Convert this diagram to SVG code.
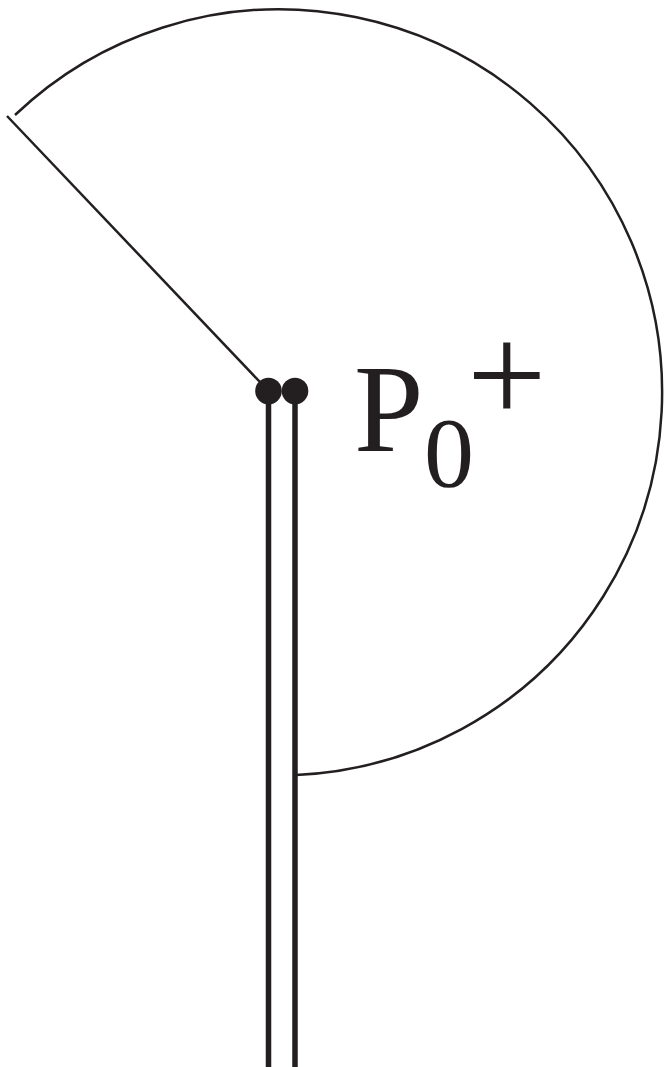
<svg xmlns="http://www.w3.org/2000/svg" width="665" height="1067" viewBox="0 0 665 1067">
<style>
.thin{fill:none;stroke:#231f20;stroke-width:2.5}
.thick{fill:none;stroke:#231f20;stroke-width:5.5}
.dot{fill:#231f20}
.lbl{font-family:"Liberation Serif","Times New Roman",serif;fill:#231f20}
</style>
<rect width="665" height="1067" fill="#fff"/>
<g id="connectors">
<path class="thin" d="M15,115 A383,383 0 1 1 296,775"/>
<line class="thin" x1="7" y1="116" x2="268.5" y2="391"/>
<line class="thick" x1="268.5" y1="391" x2="268.5" y2="1067"/>
<line class="thick" x1="295" y1="391" x2="295" y2="1067"/>
</g>
<g id="node-dots">
<circle class="dot" cx="268.5" cy="391" r="13.3"/>
<circle class="dot" cx="295" cy="391" r="13.3"/>
</g>
<g id="label-P0">
<text class="lbl" x="354" y="451" font-size="125">P</text>
<text class="lbl" x="424" y="486" font-size="100">0</text>
<text class="lbl" x="467" y="423" font-size="141">+</text>
</g>
</svg>
